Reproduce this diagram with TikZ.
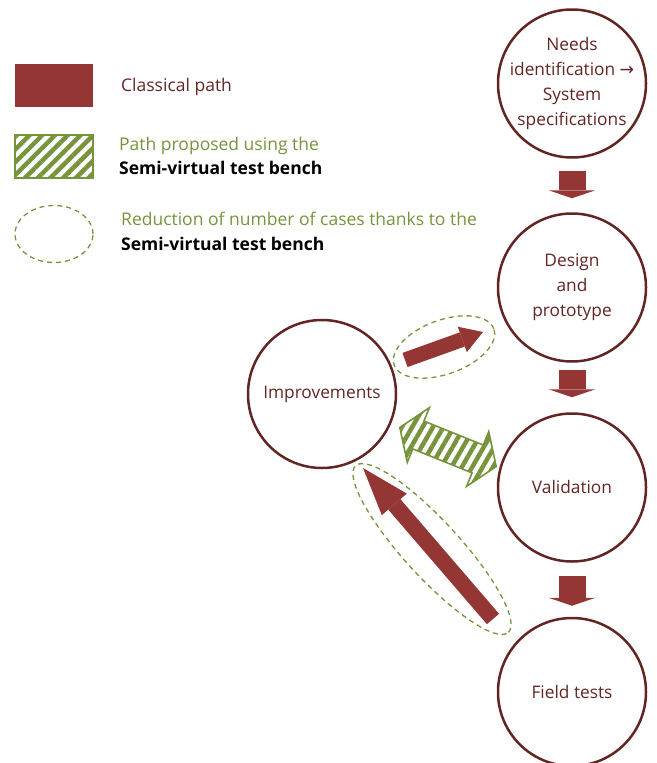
\documentclass[tikz,border=0pt]{standalone}
\usepackage{fontspec}
\setmainfont{Open Sans}
\newfontfamily\symbolfont{DejaVu Sans}
\usetikzlibrary{arrows.meta,patterns.meta,shapes.geometric}
\definecolor{stageline}{HTML}{632523}
\definecolor{classred}{HTML}{943634}
\definecolor{benchgreen}{HTML}{77933C}
\tikzset{
  stage/.style={circle,draw=stageline,line width=2.5pt,minimum size=148pt,inner sep=-8pt,
    align=center,text=stageline,font=\fontsize{17.3}{25}\selectfont},
  stepdown/.style={classred,line width=27pt,-{Triangle[width=47pt,length=8pt,line width=0pt]}},
  shortcut/.style={classred,line width=15pt,-{Triangle[width=27pt,length=22pt,line width=0pt]}},
  goback/.style={classred,line width=16pt,-{Triangle[width=33pt,length=48pt,line width=0pt]}},
  hatched/.style={draw=benchgreen,line width=1.6pt,
    pattern={Lines[angle=#1,distance=9pt,line width=4.5pt]},pattern color=benchgreen},
  reduction/.style={ellipse,draw=benchgreen,line width=1.3pt,dash pattern=on 5pt off 4pt},
  legendbox/.style={minimum width=78pt,minimum height=43pt,inner sep=0pt},
  legendtext/.style={anchor=west,inner sep=0pt,font=\fontsize{17.5}{20}\selectfont}
}
\begin{document}
\begin{tikzpicture}[x=1pt,y=-1pt]
\useasboundingbox (0,0) rectangle (656,763);
% legend
\node[legendbox,fill=classred] (classbox) at (54,85.5) {};
\node[legendtext,text=stageline] (classtext) at (121,87) {Classical path};
\node[legendbox,hatched=45] (benchbox) at (54,156.5) {};
\node[legendtext,text=benchgreen] (benchtext) at (119,146) {Path proposed using the};
\node[legendtext,font=\fontsize{17.5}{20}\selectfont\bfseries] (benchname) at (119,168) {Semi-virtual test bench};
\node[reduction,minimum width=78pt,minimum height=57pt] (cutkey) at (54,234) {};
\node[legendtext,text=benchgreen] (cuttext) at (121,219) {Reduction of number of cases thanks to the};
\node[legendtext,font=\fontsize{17.5}{20}\selectfont\bfseries] (cutname) at (121,244) {Semi-virtual test bench};
% stages
\node[stage] (need) at (572,83.5) {Needs\\identification {\symbolfont →}\\System\\specifications};
\node[stage] (design) at (572,287.5) {Design\\and\\prototype};
\node[stage] (valid) at (572,487.5) {Validation};
\node[stage] (field) at (572,692) {Field tests};
\node[stage] (impr) at (322,394) {Improvements};
% classical path
\draw[stepdown] ([yshift=-12pt]need.south) -- ([yshift=14pt]design.north);
\draw[stepdown] ([yshift=-7pt]design.south) -- ([yshift=15pt]valid.north);
\draw[stepdown] ([yshift=-13pt]valid.south) -- ([yshift=11pt]field.north);
\coordinate (sctail) at (405,360);
\coordinate (schead) at (483,332);
\draw[shortcut] (sctail) -- (schead);
\coordinate (gbtail) at (493,619);
\coordinate (gbhead) at (363,468);
\draw[goback] (gbtail) -- (gbhead);
% semi-virtual test bench
\coordinate (bench) at (448,447);
\begin{scope}[shift={(bench)},rotate=-22]
  \draw[hatched=60] (-52,0) -- (-32,29.5) -- (-32,15) -- (32,15) -- (32,29.5) -- (52,0)
    -- (32,-29.5) -- (32,-15) -- (-32,-15) -- (-32,-29.5) -- cycle;
\end{scope}
\node[reduction,minimum width=106pt,minimum height=54pt,rotate=20] (cutone) at (444,347) {};
\node[reduction,minimum width=226pt,minimum height=56pt,rotate=-47.5] (cuttwo) at (432,549) {};
\end{tikzpicture}
\end{document}
